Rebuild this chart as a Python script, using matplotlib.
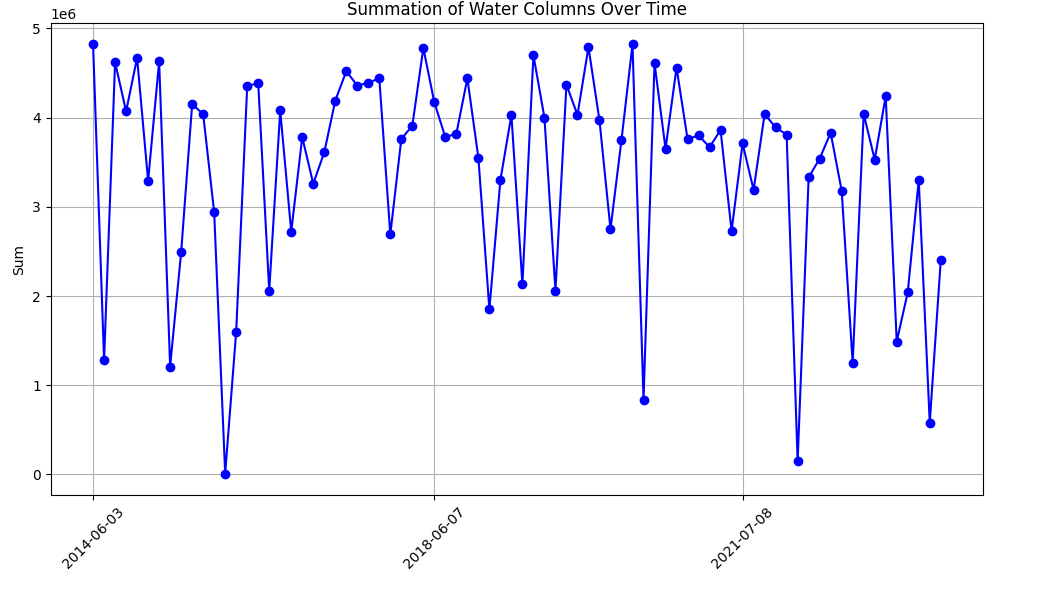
"""Line plot of summed water columns per acquisition."""

import matplotlib
matplotlib.use("Agg")
import matplotlib.pyplot as plt
import numpy as np

# Sum of water columns per acquisition (units of 1e6)
sums_e6 = [
    4.82, 1.28, 4.62, 4.07, 4.67, 3.29, 4.63, 1.21, 2.49, 4.15,
    4.04, 2.94, 0.01, 1.60, 4.35, 4.39, 2.06, 4.08, 2.72, 3.78,
    3.26, 3.61, 4.19, 4.52, 4.36, 4.39, 4.44, 2.69, 3.76, 3.91,
    4.78, 4.17, 3.78, 3.82, 4.44, 3.55, 1.85, 3.30, 4.03, 2.13,
    4.70, 4.00, 2.06, 4.37, 4.03, 4.79, 3.97, 2.75, 3.75, 4.82,
    0.84, 4.61, 3.65, 4.56, 3.76, 3.80, 3.67, 3.86, 2.73, 3.71,
    3.19, 4.04, 3.89, 3.81, 0.15, 3.33, 3.54, 3.83, 3.18, 1.25,
    4.04, 3.53, 4.24, 1.49, 2.04, 3.30, 0.58, 2.40,
]

# labelled acquisitions on the x axis
tick_labels = ["2014-06-03", "2018-06-07", "2021-07-08"]
tick_index = [0, 31, 59]

values = np.array(sums_e6) * 1e6
x = np.arange(len(values))

fig = plt.figure(figsize=(10.56, 5.9), dpi=100)
ax = fig.add_axes([0.048, 0.161, 0.883, 0.8])

ax.plot(x, values, marker="o", color="b", linestyle="-")
ax.set_xticks(tick_index)
ax.set_xticklabels(tick_labels, rotation=45)
ax.set_title("Summation of Water Columns Over Time")
ax.set_ylabel("Sum")
ax.grid(True)

fig.savefig("out.png", dpi=100)
